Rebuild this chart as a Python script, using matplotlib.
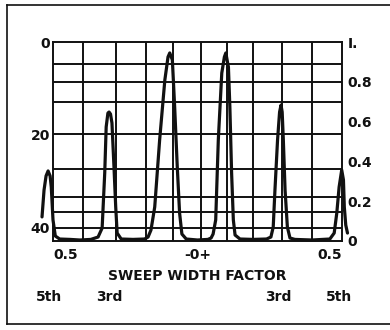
import matplotlib
matplotlib.use("Agg")
import matplotlib.pyplot as plt
from matplotlib.lines import Line2D
from matplotlib.transforms import blended_transform_factory

# response trace
# x: sweep width factor (-0.5 .. 0.5), y: relative amplitude (0 .. 1)
curve_x = [-0.538, -0.531, -0.524, -0.517, -0.510, -0.506, -0.500, -0.492, -0.477,
           -0.441, -0.407, -0.369, -0.344, -0.330, -0.321, -0.316, -0.310, -0.306,
           -0.301, -0.296, -0.289, -0.283, -0.278, -0.264, -0.223, -0.183, -0.171,
           -0.161, -0.148, -0.131, -0.113, -0.102, -0.096, -0.087, -0.079, -0.070,
           -0.062, -0.054, -0.039, 0.000, 0.036, 0.047, 0.054, 0.063, 0.072, 0.084,
           0.093, 0.098, 0.107, 0.112, 0.118, 0.124, 0.130, 0.147, 0.192, 0.239,
           0.254, 0.262, 0.268, 0.277, 0.284, 0.289, 0.293, 0.297, 0.303, 0.311,
           0.320, 0.337, 0.396, 0.458, 0.473, 0.482, 0.490, 0.499, 0.505, 0.508,
           0.513, 0.519]
curve_y = [0.121, 0.256, 0.327, 0.352, 0.327, 0.271, 0.106, 0.025, 0.010,
           0.008, 0.005, 0.008, 0.020, 0.065, 0.342, 0.573, 0.643, 0.648,
           0.638, 0.593, 0.372, 0.171, 0.040, 0.010, 0.008, 0.010, 0.020,
           0.055, 0.171, 0.508, 0.809, 0.925, 0.945, 0.910, 0.673, 0.372,
           0.141, 0.035, 0.010, 0.005, 0.008, 0.015, 0.035, 0.106, 0.508, 0.844,
           0.925, 0.945, 0.874, 0.673, 0.342, 0.106, 0.030, 0.010, 0.008, 0.010,
           0.020, 0.070, 0.256, 0.508, 0.648, 0.683, 0.648, 0.508, 0.256, 0.070,
           0.015, 0.008, 0.005, 0.010, 0.040, 0.141, 0.271, 0.357, 0.307, 0.171,
           0.080, 0.040]

grid_x = [-0.396, -0.282, -0.178, -0.085, 0.012, 0.102, 0.192, 0.292, 0.396]
grid_y = [0.889, 0.799, 0.698, 0.538, 0.362, 0.221, 0.146, 0.065]

db_ticks = [0, 20, 40]
db_range = 42.8
amp_ticks = [0, 0.2, 0.4, 0.6, 0.8, 1.0]
amp_labels = ["0", "0.2", "0.4", "0.6", "0.8", "I."]

end_labels = ["0.5", "-0+", "0.5"]
harmonic_x = [-0.515, -0.305, 0.28, 0.49]
harmonic_labels = ["5th", "3rd", "3rd", "5th"]

ink = "#111111"
fs = 10
fw = "bold"

fig = plt.figure(figsize=(3.9, 3.3), dpi=100)
ax = fig.add_axes([53 / 390, 89 / 330, 289 / 390, 199 / 330])
ax.set_xlim(-0.5, 0.5)
ax.set_ylim(0, 1)

for gx in grid_x:
    ax.axvline(gx, color=ink, lw=1.4)
for gy in grid_y:
    ax.axhline(gy, color=ink, lw=1.4)
for sp in ax.spines.values():
    sp.set_linewidth(1.4)
    sp.set_color(ink)

ax.plot(curve_x, curve_y, color=ink, lw=2.3, clip_on=False,
        solid_joinstyle="round", solid_capstyle="round")

ax.set_xticks([])
ax.yaxis.tick_right()
ax.set_yticks(amp_ticks)
ax.set_yticklabels(amp_labels, fontweight=fw)
ax.tick_params(axis="y", length=0, pad=4, labelsize=fs, colors=ink)

sec = ax.secondary_yaxis("left", functions=(lambda a: (1 - a) * db_range,
                                            lambda d: 1 - d / db_range))
sec.set_yticks(db_ticks)
sec.set_yticklabels([str(t) for t in db_ticks], fontweight=fw)
sec.tick_params(length=0, pad=2, labelsize=fs, colors=ink)
sec.spines["left"].set_visible(False)

tr = blended_transform_factory(ax.transData, ax.transAxes)
txt = dict(transform=tr, va="center", fontsize=fs, color=ink, fontweight=fw)
ax.text(-0.5, -0.07, end_labels[0], ha="left", **txt)
ax.text(0.0, -0.07, end_labels[1], ha="center", **txt)
ax.text(0.5, -0.07, end_labels[2], ha="right", **txt)
ax.text(0.0, -0.176, "SWEEP WIDTH FACTOR", ha="center", **txt)
for hx, lab in zip(harmonic_x, harmonic_labels):
    ax.text(hx, -0.283, lab, ha="center", **txt)

# outer frame (right side cut off in the scan)
fx = lambda px: px / 390
fy = lambda py: 1 - py / 330
fig.add_artist(Line2D([fx(7), fx(7)], [fy(5), fy(324)], color=ink, lw=1.2))
fig.add_artist(Line2D([fx(7), fx(390)], [fy(5), fy(5)], color=ink, lw=1.2))
fig.add_artist(Line2D([fx(7), fx(390)], [fy(324), fy(324)], color=ink, lw=1.2))

fig.savefig("out.png", dpi=100)
